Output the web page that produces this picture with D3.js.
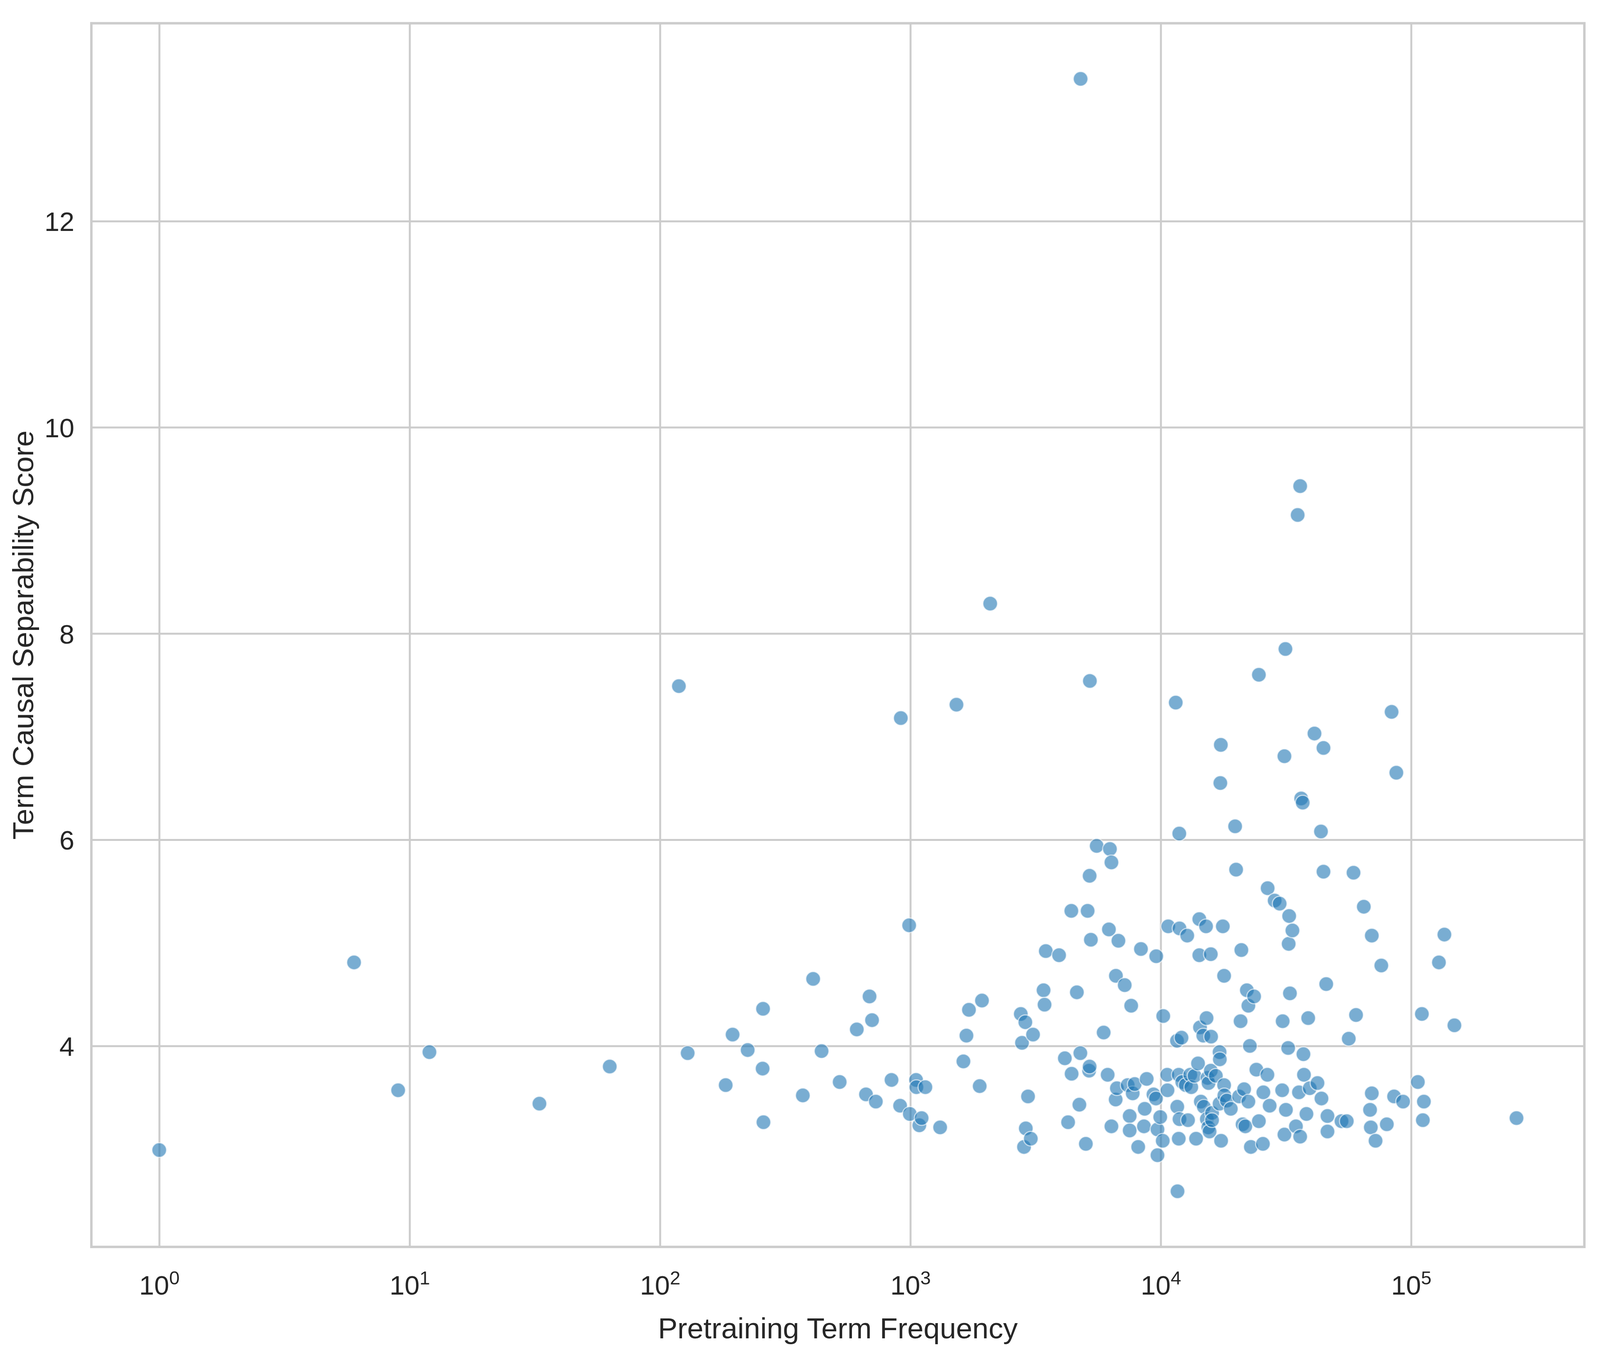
<!DOCTYPE html>
<html>
<head>
<meta charset="utf-8">
<script src="https://cdn.jsdelivr.net/npm/d3@7"></script>
<style>
html, body { margin: 0; padding: 0; background: #ffffff; overflow: hidden; }
svg { display: block; }
</style>
</head>
<body>
<svg id="chart"></svg>
<script>
// ---- data ----
const frequency = [
  1, 6, 9, 12, 33, 63, 119, 129, 183, 195, 224, 257, 258, 259, 372, 409, 442, 522, 611, 665,
  687, 703, 728, 841, 910, 916, 989, 995, 1054, 1057, 1086, 1109, 1148, 1315, 1528, 1629, 1675, 1714, 1892, 1932,
  2084, 2761, 2792, 2844, 2879, 2891, 2951, 3027, 3090, 3404, 3435, 3475, 3926, 4140, 4266, 4395, 4406, 4624, 4732, 4775,
  4786, 5023, 5105, 5176, 5200, 5200, 5212, 5260, 5549, 5916, 6138, 6209, 6267, 6354, 6354, 6607, 6622, 6683, 6776, 7180,
  7379, 7516, 7516, 7621, 7727, 7870, 8128, 8336, 8570, 8630, 8790, 9354, 9572, 9594, 9705, 9705, 9954, 10186, 10233, 10617,
  10641, 10715, 11480, 11614, 11641, 11668, 11803, 11803, 11860, 11885, 11885, 12106, 12190, 12589, 12760, 12853, 13122, 13243, 13646, 13840,
  14090, 14260, 14260, 14350, 14460, 14790, 14860, 15170, 15240, 15280, 15380, 15490, 15520, 15670, 15850, 15850, 15890, 16030, 16030, 16600,
  17180, 17180, 17220, 17300, 17380, 17420, 17700, 17910, 17910, 17950, 18370, 19050, 19820, 20000, 20560, 20840, 20990, 21230, 21530, 21770,
  22080, 22390, 22390, 22700, 22910, 23600, 24100, 24660, 24660, 25590, 25700, 26670, 26730, 27230, 28510, 29850, 30550, 30690, 31190, 31190,
  31480, 31620, 32280, 32430, 32580, 32810, 33570, 34670, 35230, 35650, 36050, 36050, 36390, 36900, 37150, 37330, 38190, 38810, 39370, 41120,
  42270, 43650, 43850, 44670, 44670, 45810, 46340, 46340, 52720, 55340, 56360, 58880, 60260, 64720, 68550, 69030, 69660, 69660, 72110, 76030,
  79980, 83560, 85510, 87300, 92890, 106400, 110400, 111400, 112460, 129150, 135800, 148900, 263600
];
const score = [
  2.99, 4.81, 3.57, 3.94, 3.44, 3.80, 7.49, 3.93, 3.62, 4.11, 3.96, 3.78, 4.36, 3.26, 3.52, 4.65, 3.95, 3.65, 4.16, 3.53,
  4.48, 4.25, 3.46, 3.67, 3.42, 7.18, 5.17, 3.34, 3.67, 3.60, 3.23, 3.30, 3.60, 3.21, 7.31, 3.85, 4.10, 4.35, 3.61, 4.44,
  8.29, 4.31, 4.03, 3.02, 4.23, 3.20, 3.51, 3.10, 4.11, 4.54, 4.40, 4.92, 4.88, 3.88, 3.26, 5.31, 3.73, 4.52, 3.43, 3.93,
  13.38, 3.05, 5.31, 3.76, 5.65, 3.80, 7.54, 5.03, 5.94, 4.13, 3.72, 5.13, 5.91, 5.78, 3.22, 3.48, 4.68, 3.59, 5.02, 4.59,
  3.62, 3.32, 3.18, 4.39, 3.54, 3.63, 3.02, 4.94, 3.22, 3.39, 3.68, 3.53, 3.49, 4.87, 3.19, 2.94, 3.31, 3.08, 4.29, 3.72,
  3.57, 5.16, 7.33, 4.05, 3.41, 2.59, 3.10, 3.72, 6.06, 5.14, 3.29, 4.08, 3.65, 3.62, 5.07, 3.28, 3.72, 3.60, 3.71, 3.10,
  3.83, 5.23, 4.88, 4.18, 3.46, 4.10, 3.41, 5.16, 4.27, 3.29, 3.69, 3.21, 3.64, 3.17, 4.89, 3.76, 4.09, 3.35, 3.28, 3.71,
  3.94, 3.44, 3.87, 6.55, 6.92, 3.08, 5.16, 4.68, 3.62, 3.52, 3.47, 3.39, 6.13, 5.71, 3.51, 4.24, 4.93, 3.24, 3.58, 3.22,
  4.54, 4.39, 3.46, 4.00, 3.02, 4.48, 3.77, 7.60, 3.27, 3.05, 3.55, 3.72, 5.53, 3.42, 5.41, 5.38, 3.57, 4.24, 6.81, 3.14,
  7.85, 3.38, 3.98, 4.99, 5.26, 4.51, 5.12, 3.22, 9.15, 3.55, 9.43, 3.12, 6.40, 6.36, 3.92, 3.72, 3.34, 4.27, 3.59, 7.03,
  3.64, 6.08, 3.49, 6.89, 5.69, 4.60, 3.32, 3.17, 3.27, 3.27, 4.07, 5.68, 4.30, 5.35, 3.38, 3.21, 5.07, 3.54, 3.08, 4.78,
  3.24, 7.24, 3.51, 6.65, 3.46, 3.65, 4.31, 3.28, 3.46, 4.81, 5.08, 4.20, 3.30
];
const xTickExponents = [0, 1, 2, 3, 4, 5];
const yTickValues = [4, 6, 8, 10, 12];
const xAxisTitle = "Pretraining Term Frequency";
const yAxisTitle = "Term Causal Separability Score";

// ---- layout: reference proportions (5937 x 3506) mapped onto the actual window ----
const REF_W = 5937, REF_H = 3506;
const W = window.innerWidth || REF_W, H = window.innerHeight || REF_H;
const sx = W / REF_W, sy = H / REF_H, k = Math.sqrt(sx * sy);
const plot = { left: 339 * sx, right: 5879 * sx, top: 59.5 * sy, bottom: 3191 * sy };
const plotW = plot.right - plot.left, plotH = plot.bottom - plot.top;
const FONT = "'Liberation Sans', Arial, Helvetica, sans-serif";
const TEXT = "#262626", GRID = "#cccccc";
const tickFont = 83 * k, titleFont = 90 * k;

const points = frequency.map((f, i) => ({ f, s: score[i] }));

// matplotlib-style 5% margins
const lx0 = Math.log10(d3.min(frequency)), lx1 = Math.log10(d3.max(frequency));
const px = (lx1 - lx0) * 0.05;
const y0 = d3.min(score), y1 = d3.max(score);
const py = (y1 - y0) * 0.05;

const x = d3.scaleLog().domain([Math.pow(10, lx0 - px), Math.pow(10, lx1 + px)]).range([plot.left, plot.right]);
const y = d3.scaleLinear().domain([y0 - py, y1 + py]).range([plot.bottom, plot.top]);

const svg = d3.select("#chart").attr("width", W).attr("height", H);
svg.append("rect").attr("width", W).attr("height", H).attr("fill", "#ffffff");

// y axis with grid
const gy = svg.append("g").attr("transform", `translate(${plot.left},0)`)
  .call(d3.axisLeft(y).tickValues(yTickValues).tickSize(-plotW).tickPadding(63 * sx).tickFormat(d3.format("d")));
gy.select(".domain").remove();
gy.selectAll(".tick line").attr("stroke", GRID).attr("stroke-width", 6 * k);
gy.selectAll(".tick text").attr("fill", TEXT).attr("font-family", FONT).attr("font-size", tickFont).attr("dy", "0.36em");

// x axis with grid
const gx = svg.append("g").attr("transform", `translate(0,${plot.bottom})`)
  .call(d3.axisBottom(x).tickValues(xTickExponents.map(e => Math.pow(10, e))).tickSize(-plotH).tickFormat(() => ""));
gx.select(".domain").remove();
gx.selectAll(".tick line").attr("stroke", GRID).attr("stroke-width", 6 * k);
gx.selectAll(".tick text")
  .attr("fill", TEXT).attr("font-family", FONT).attr("font-size", tickFont)
  .attr("y", 122 * sy).attr("dy", null)
  .each(function(d, i) {
    const t = d3.select(this);
    t.text(null);
    t.append("tspan").text("10");
    t.append("tspan").attr("font-size", tickFont * 0.7).attr("dy", -31 * k).text(String(xTickExponents[i]));
  });

// spines
svg.append("rect")
  .attr("x", plot.left).attr("y", plot.top).attr("width", plotW).attr("height", plotH)
  .attr("fill", "none").attr("stroke", GRID).attr("stroke-width", 7.5 * k);

// points
svg.append("g").selectAll("circle").data(points).join("circle")
  .attr("cx", d => x(d.f)).attr("cy", d => y(d.s)).attr("r", 22.5 * k)
  .attr("fill", "#1f77b4").attr("fill-opacity", 0.6)
  .attr("stroke", "#ffffff").attr("stroke-opacity", 0.6).attr("stroke-width", 3.6 * k);

// axis titles
svg.append("text")
  .attr("x", (plot.left + plot.right) / 2).attr("y", 3425 * sy)
  .attr("text-anchor", "middle").attr("fill", TEXT).attr("font-family", FONT).attr("font-size", titleFont)
  .text(xAxisTitle);
svg.append("text")
  .attr("transform", `translate(${123 * sx},${(plot.top + plot.bottom) / 2}) rotate(-90)`)
  .attr("text-anchor", "middle").attr("fill", TEXT).attr("font-family", FONT).attr("font-size", titleFont)
  .text(yAxisTitle);
</script>
</body>
</html>
